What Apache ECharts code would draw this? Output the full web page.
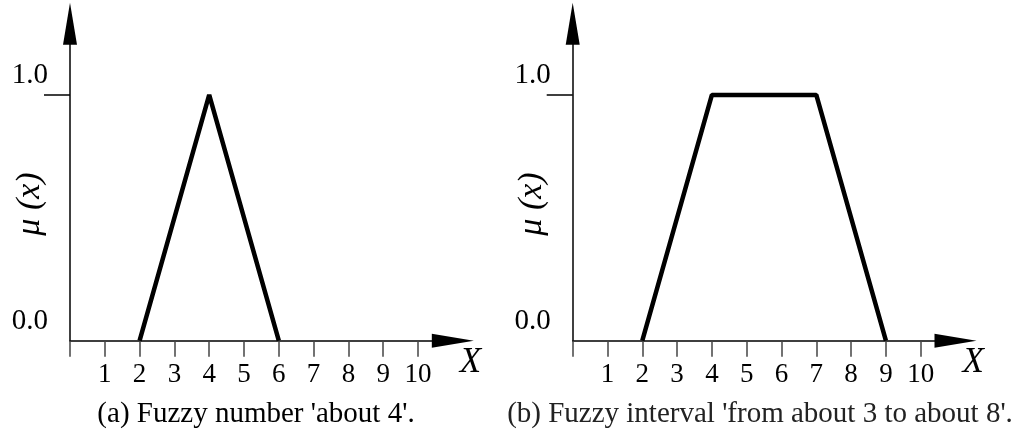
<!DOCTYPE html>
<html><head><meta charset="utf-8">
<script src="https://cdn.jsdelivr.net/npm/echarts@6/dist/echarts.min.js"></script>
<style>html,body{margin:0;padding:0;background:#fff}#c{width:1016px;height:436px}</style>
</head><body><div id="c"></div>
<script>
// ---- data ----
const xTickValues = [0,1,2,3,4,5,6,7,8,9,10];
const xLabelValues = [1,2,3,4,5,6,7,8,9,10];
const yLabelValues = [0,1];
const yTickValues = [1];
const seriesA = [[2,0],[4,1],[6,0]];           // fuzzy number 'about 4'
const seriesB = [[2,0],[4,1],[7,1],[9,0]];     // fuzzy interval
const captionA = "(a) Fuzzy number 'about 4'.";
const captionB = "(b) Fuzzy interval 'from about 3 to about 8'.";
const xName = 'X';
const yName = 'μ (x)';

const FONT = 'Liberation Serif';
const grids = [
  {left:70, top:23.7, width:382.8, height:317, containLabel:false, outerBoundsMode:'none'},
  {left:572.7, top:23.7, width:382.8, height:317, containLabel:false, outerBoundsMode:'none'}
];
function xAx(i){
  return {
    gridIndex:i, type:'value', min:0, max:11,
    axisLine:{show:true, onZero:false, lineStyle:{color:'#000', width:1.5}, symbol:['none','triangle'], symbolSize:[14,42]},
    axisTick:{show:true, length:16, customValues:xTickValues, lineStyle:{color:'#444', width:1.5}},
    axisLabel:{show:true, customValues:xLabelValues, fontFamily:FONT, fontSize:27, color:'#000', margin:21},
    splitLine:{show:false},
    name:xName, nameLocation:'end', nameGap:7,
    nameTextStyle:{fontFamily:FONT, fontStyle:'italic', fontSize:35, color:'#000', verticalAlign:'top', padding:[5,0,0,0]}
  };
}
function yAx(i){
  return {
    gridIndex:i, type:'value', min:0, max:1.29,
    axisLine:{show:true, onZero:false, lineStyle:{color:'#000', width:1.5}, symbol:['none','triangle'], symbolSize:[14,42]},
    axisTick:{show:true, length:26, customValues:yTickValues, lineStyle:{color:'#000', width:1.5}},
    axisLabel:{show:true, customValues:yLabelValues, fontFamily:FONT, fontSize:29, color:'#000', margin:22,
      verticalAlign:'bottom', padding:[0,0,5,0], formatter:v=>v.toFixed(1)},
    splitLine:{show:false}
  };
}
function yTitle(cx){
  return {type:'text', x:cx, y:204, rotation:Math.PI/2, silent:true,
    style:{text:yName, fontFamily:FONT, fontStyle:'italic', fontSize:34, fill:'#000', align:'center', verticalAlign:'middle'}};
}
const lineStyle = {color:'#000', width:4.5};
const chart = echarts.init(document.getElementById('c'), null, {renderer:'canvas'});
chart.setOption({
  animation:false,
  backgroundColor:'#fff',
  grid:grids,
  xAxis:[xAx(0), xAx(1)],
  yAxis:[yAx(0), yAx(1)],
  graphic:[yTitle(30), yTitle(532)],
  title:[
    {text:captionA, left:256, top:400, padding:0, textAlign:'center', textStyle:{fontFamily:FONT, fontWeight:'normal', fontSize:29, color:'#000'}},
    {text:captionB, left:760, top:400, padding:0, textAlign:'center', textStyle:{fontFamily:FONT, fontWeight:'normal', fontSize:29, color:'#222'}}
  ],
  series:[
    {type:'line', xAxisIndex:0, yAxisIndex:0, data:seriesA, symbol:'none', lineStyle:lineStyle, z:5},
    {type:'line', xAxisIndex:1, yAxisIndex:1, data:seriesB, symbol:'none', lineStyle:lineStyle, z:5}
  ]
});
</script></body></html>
